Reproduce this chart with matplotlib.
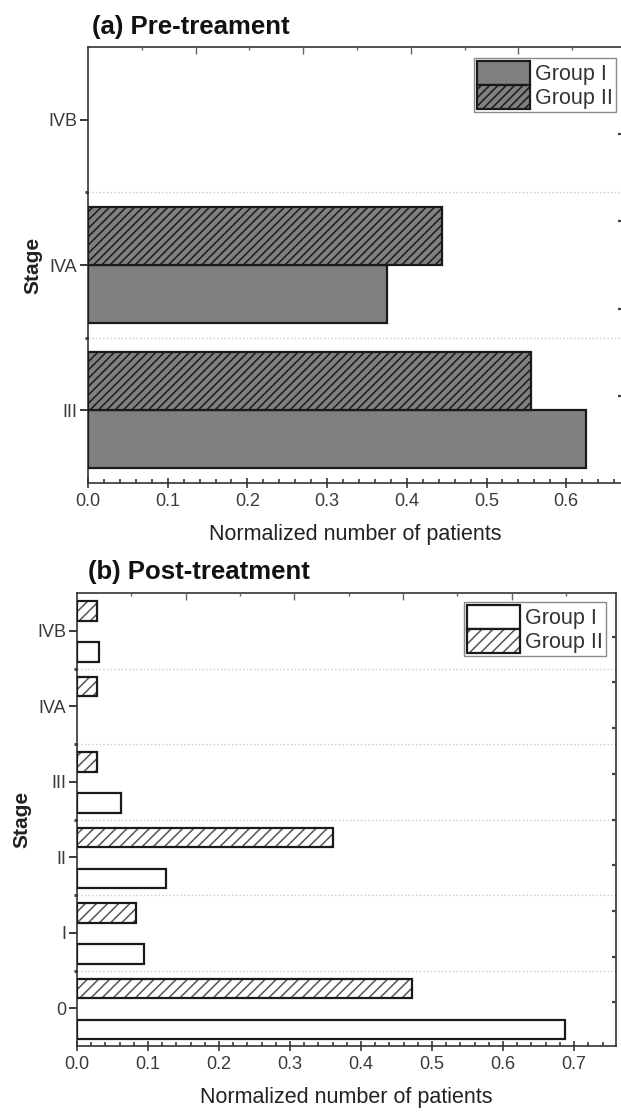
import matplotlib
matplotlib.use('Agg')
import matplotlib.pyplot as plt
import matplotlib.patches as mpatches
import numpy as np

plt.rcParams['font.family'] = ['Liberation Sans', 'DejaVu Sans']
plt.rcParams['hatch.linewidth'] = 1.1

# ---------------- data ----------------
pre_stages = ['III', 'IVA', 'IVB']
pre_group1 = [0.625, 0.375, 0.0]
pre_group2 = [0.556, 0.444, 0.0]

post_stages = ['0', 'I', 'II', 'III', 'IVA', 'IVB']
post_group1 = [0.6875, 0.094, 0.125, 0.0625, 0.0, 0.031]
post_group2 = [0.472, 0.083, 0.361, 0.028, 0.028, 0.028]

series_labels = ['Group I', 'Group II']
xlabel = 'Normalized number of patients'
ylabel = 'Stage'
titles = ['(a) Pre-treament', '(b) Post-treatment']

W, H = 621, 1116
fig = plt.figure(figsize=(W / 100, H / 100), dpi=100)


def px_axes(l, t, r, b):
    return fig.add_axes([l / W, 1 - b / H, (r - l) / W, (b - t) / H])


TICK_COLOR = '#3a3a3a'


def panel(ax, stages, g1, g2, off1, off2, h, face1, face2, hatch_col, hatch,
          xmax, top_step, right_start, right_step, leg_anchor):
    pos = np.arange(len(stages))
    g1 = np.asarray(g1)
    g2 = np.asarray(g2)
    m1 = g1 > 0
    m2 = g2 > 0
    # Group I bars
    ax.barh(pos[m1] + off1, g1[m1], height=h, color=face1, edgecolor='#1a1a1a',
            linewidth=1.6, zorder=3)
    # Group II bars: hatch layer then outline layer
    ax.barh(pos[m2] + off2, g2[m2], height=h, color=face2, edgecolor=hatch_col,
            hatch=hatch, linewidth=0, zorder=3)
    ax.barh(pos[m2] + off2, g2[m2], height=h, facecolor='none', edgecolor='#1a1a1a',
            linewidth=1.6, zorder=4)

    ax.set_xlim(0, xmax)
    ax.set_ylim(-0.5, len(stages) - 0.5)
    ax.set_yticks(pos)
    ax.set_yticklabels(stages)
    ax.set_yticks(pos[:-1] + 0.5, minor=True)
    ax.set_xticks(np.arange(0, xmax + 1e-9, 0.1))
    ax.set_xticklabels([f'{v:.1f}' for v in np.arange(0, xmax + 1e-9, 0.1)])
    ax.set_xticks(np.arange(0, xmax + 1e-9, 0.02), minor=True)
    ax.grid(axis='y', which='minor', color='#c8c8c8', linestyle=':', linewidth=1.0, zorder=0)

    ax.tick_params(axis='y', which='major', direction='out', length=6, width=1.4,
                   colors=TICK_COLOR, labelsize=13, pad=2)
    ax.tick_params(axis='y', which='minor', direction='out', length=2, width=2,
                   colors=TICK_COLOR)
    ax.tick_params(axis='x', which='major', direction='inout', length=7, width=1.2,
                   colors=TICK_COLOR, labelsize=13, pad=4)
    ax.tick_params(axis='x', which='minor', direction='in', length=3, width=1.2,
                   colors=TICK_COLOR)
    for s in ax.spines.values():
        s.set_color('#333333')
        s.set_linewidth(1.2)

    ax.set_xlabel(xlabel, fontsize=15.5, color='#222222', labelpad=10)
    ax.set_ylabel(ylabel, fontsize=15, fontweight='bold', color='#222222', labelpad=4)

    # faint secondary ticks on top / right (as in the original software export)
    axt = ax.twiny()
    axt.set_xlim(ax.get_xlim())
    axt.set_xticks(np.arange(top_step, xmax, top_step))
    axt.set_xticks(np.arange(top_step / 2, xmax, top_step), minor=True)
    axt.tick_params(axis='x', which='major', direction='in', length=5, width=1.0,
                    colors='#666666', labeltop=False)
    axt.tick_params(axis='x', which='minor', direction='in', length=2.5, width=1.0,
                    colors='#666666')
    axr = ax.twinx()
    axr.set_ylim(ax.get_ylim())
    axr.set_yticks(np.arange(right_start, len(stages) - 0.5, right_step))
    axr.tick_params(axis='y', direction='in', length=3, width=1.6, colors='#444444',
                    labelright=False)
    for a in (axt, axr):
        for s in a.spines.values():
            s.set_visible(False)

    # legend
    p1 = mpatches.Patch(facecolor=face1, edgecolor='#1a1a1a', linewidth=1.6)
    p2a = mpatches.Patch(facecolor=face2, edgecolor=hatch_col, hatch=hatch, linewidth=0)
    p2b = mpatches.Patch(facecolor='none', edgecolor='#1a1a1a', linewidth=1.6)
    leg = axr.legend([p1, (p2a, p2b)], series_labels, loc='upper right',
                     bbox_to_anchor=leg_anchor, borderaxespad=0, fontsize=15.5,
                     handlelength=2.45, handleheight=1.3, labelspacing=0.0,
                     borderpad=0.15, handletextpad=0.25, frameon=True,
                     fancybox=False, framealpha=1)
    leg.get_frame().set_edgecolor('#8a8a8a')
    leg.get_frame().set_linewidth(1.0)
    for t in leg.get_texts():
        t.set_color('#333333')


# panel (a)
axa = px_axes(88, 47, 622, 483)
panel(axa, pre_stages, pre_group1, pre_group2, -0.2, 0.2, 0.4,
      '#808080', '#808080', '#1a1a1a', '////', 0.67, 0.135, 0.10, 0.60,
      (1 - 6 / 534, 1 - 11 / 436))

# panel (b)
axb = px_axes(77, 593, 616, 1046)
panel(axb, post_stages, post_group1, post_group2, -0.28, 0.26, 0.26,
      'white', 'white', '#555555', '///', 0.759, 0.153, 0.08, 0.605,
      (1 - 10 / 539, 1 - 9 / 453))

fig.text(92 / W, 1 - 27 / H, titles[0], fontsize=18.5, fontweight='bold',
         ha='left', va='center', color='#111111')
fig.text(88 / W, 1 - 572 / H, titles[1], fontsize=18.5, fontweight='bold',
         ha='left', va='center', color='#111111')

fig.savefig('out.png', dpi=100)
